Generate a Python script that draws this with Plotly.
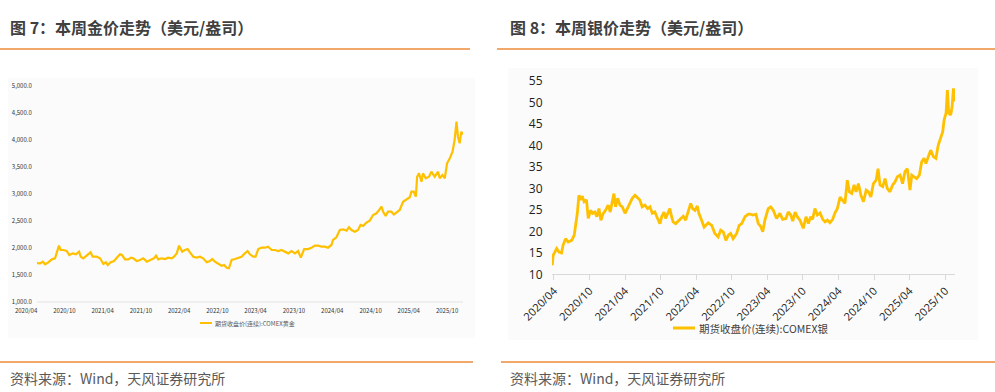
import plotly.graph_objects as go

# ---------------- data ----------------
gold_dates = [
    "2020-05-23", "2020-06-07", "2020-06-20", "2020-07-01", "2020-07-16", "2020-08-02", "2020-08-17",
    "2020-08-28", "2020-09-05", "2020-09-13", "2020-09-26", "2020-10-12", "2020-10-24", "2020-11-10",
    "2020-11-25", "2020-12-10", "2020-12-18", "2020-12-30", "2021-01-15", "2021-02-03", "2021-02-13",
    "2021-03-04", "2021-03-20", "2021-04-05", "2021-04-17", "2021-04-26", "2021-05-10", "2021-05-26",
    "2021-06-10", "2021-06-23", "2021-07-03", "2021-07-17", "2021-08-02", "2021-08-15", "2021-08-26",
    "2021-09-11", "2021-09-27", "2021-10-12", "2021-10-29", "2021-11-17", "2021-12-02", "2021-12-12",
    "2021-12-23", "2022-01-08", "2022-01-24", "2022-02-08", "2022-02-25", "2022-03-08", "2022-03-21",
    "2022-04-01", "2022-04-16", "2022-04-29", "2022-05-12", "2022-05-23", "2022-06-08", "2022-06-24",
    "2022-07-10", "2022-07-25", "2022-08-11", "2022-08-26", "2022-09-06", "2022-09-19", "2022-10-05",
    "2022-10-21", "2022-11-02", "2022-11-14", "2022-11-25", "2022-12-08", "2022-12-24", "2023-01-08",
    "2023-01-24", "2023-02-09", "2023-02-22", "2023-03-05", "2023-03-21", "2023-04-01", "2023-04-14",
    "2023-04-30", "2023-05-16", "2023-05-31", "2023-06-17", "2023-07-02", "2023-07-18", "2023-08-03",
    "2023-08-19", "2023-09-04", "2023-09-20", "2023-10-06", "2023-10-21", "2023-11-03", "2023-11-19",
    "2023-12-08", "2023-12-24", "2024-01-09", "2024-01-25", "2024-02-10", "2024-02-26", "2024-03-12",
    "2024-03-28", "2024-04-05", "2024-04-21", "2024-05-07", "2024-05-23", "2024-06-08", "2024-06-20",
    "2024-07-02", "2024-07-18", "2024-08-02", "2024-08-14", "2024-08-26", "2024-09-11", "2024-09-27",
    "2024-10-13", "2024-10-29", "2024-11-11", "2024-11-22", "2024-11-30", "2024-12-12", "2024-12-23",
    "2025-01-08", "2025-01-20", "2025-02-01", "2025-02-17", "2025-03-05", "2025-03-21", "2025-04-06",
    "2025-04-14", "2025-04-25", "2025-05-05", "2025-05-11", "2025-05-20", "2025-06-01", "2025-06-08",
    "2025-06-21", "2025-07-07", "2025-07-18", "2025-08-03", "2025-08-19", "2025-08-27", "2025-09-09",
    "2025-09-20", "2025-10-01", "2025-10-14", "2025-10-27", "2025-11-06", "2025-11-15", "2025-11-22",
    "2025-11-30", "2025-12-08", "2025-12-16",
]
gold_values = [
    1720, 1716, 1747, 1698, 1735, 1790, 1809, 1932, 2043, 1963, 1963, 1944, 1870, 1901, 1883, 1932,
    1839, 1809, 1858, 1920, 1839, 1839, 1809, 1704, 1735, 1685, 1735, 1759, 1828, 1883, 1870, 1790,
    1790, 1821, 1809, 1759, 1778, 1809, 1747, 1778, 1809, 1858, 1790, 1809, 1796, 1821, 1809, 1839,
    1901, 2043, 1932, 1963, 1981, 1920, 1839, 1821, 1839, 1809, 1735, 1759, 1796, 1747, 1716, 1672,
    1685, 1635, 1624, 1778, 1796, 1821, 1839, 1901, 1944, 1883, 1839, 1839, 1981, 2006, 2006, 2024,
    1963, 1963, 1944, 1963, 1932, 1901, 1944, 1901, 1944, 1821, 1981, 1981, 2006, 2043, 2043, 2024,
    2024, 2006, 2056, 2148, 2198, 2333, 2346, 2320, 2383, 2333, 2302, 2333, 2426, 2407, 2469, 2506,
    2611, 2643, 2704, 2765, 2672, 2593, 2672, 2672, 2620, 2660, 2704, 2857, 2902, 2939, 3043, 3043,
    2950, 3320, 3383, 3228, 3383, 3291, 3320, 3413, 3320, 3413, 3291, 3352, 3291, 3569, 3661, 3784,
    4000, 4339, 4061, 3939, 4154, 4100,
]

silver_dates = [
    "2020-03-23", "2020-03-28", "2020-04-06", "2020-04-15", "2020-04-27", "2020-05-10", "2020-05-18",
    "2020-05-31", "2020-06-13", "2020-07-01", "2020-07-14", "2020-07-21", "2020-07-30", "2020-08-07",
    "2020-08-16", "2020-08-24", "2020-09-03", "2020-09-15", "2020-09-24", "2020-10-06", "2020-10-16",
    "2020-10-28", "2020-11-07", "2020-11-18", "2020-11-28", "2020-12-10", "2020-12-22", "2021-01-04",
    "2021-01-15", "2021-01-27", "2021-02-03", "2021-02-11", "2021-02-22", "2021-03-06", "2021-03-18",
    "2021-04-01", "2021-04-14", "2021-04-26", "2021-05-08", "2021-05-22", "2021-06-05", "2021-06-16",
    "2021-06-28", "2021-07-12", "2021-07-26", "2021-08-07", "2021-08-19", "2021-09-01", "2021-09-15",
    "2021-09-27", "2021-10-06", "2021-10-18", "2021-10-26", "2021-11-06", "2021-11-17", "2021-11-26",
    "2021-12-04", "2021-12-17", "2021-12-30", "2022-01-13", "2022-01-25", "2022-02-06", "2022-02-19",
    "2022-03-04", "2022-03-14", "2022-03-26", "2022-04-07", "2022-04-15", "2022-04-29", "2022-05-12",
    "2022-06-02", "2022-06-20", "2022-07-06", "2022-07-23", "2022-08-05", "2022-08-18", "2022-09-01",
    "2022-09-13", "2022-09-25", "2022-10-08", "2022-10-26", "2022-11-08", "2022-11-21", "2022-12-08",
    "2022-12-25", "2023-01-02", "2023-01-19", "2023-02-02", "2023-02-14", "2023-02-26", "2023-03-09",
    "2023-03-20", "2023-04-06", "2023-04-19", "2023-05-02", "2023-05-19", "2023-06-05", "2023-06-19",
    "2023-07-06", "2023-07-18", "2023-07-31", "2023-08-10", "2023-08-22", "2023-09-02", "2023-09-16",
    "2023-10-03", "2023-10-17", "2023-10-29", "2023-11-10", "2023-11-20", "2023-12-02", "2023-12-14",
    "2023-12-28", "2024-01-11", "2024-01-23", "2024-02-04", "2024-02-17", "2024-03-02", "2024-03-14",
    "2024-03-26", "2024-04-09", "2024-04-23", "2024-05-04", "2024-05-16", "2024-05-27", "2024-06-08",
    "2024-06-20", "2024-06-30", "2024-07-12", "2024-07-25", "2024-08-07", "2024-08-21", "2024-09-02",
    "2024-09-14", "2024-09-27", "2024-10-11", "2024-10-21", "2024-10-31", "2024-11-14", "2024-11-26",
    "2024-12-07", "2024-12-21", "2025-01-04", "2025-01-16", "2025-01-28", "2025-02-11", "2025-02-24",
    "2025-03-08", "2025-03-20", "2025-04-03", "2025-04-12", "2025-04-24", "2025-05-07", "2025-05-21",
    "2025-06-02", "2025-06-14", "2025-06-24", "2025-07-06", "2025-07-18", "2025-08-01", "2025-08-14",
    "2025-08-26", "2025-09-08", "2025-09-18", "2025-09-25", "2025-10-05", "2025-10-12", "2025-10-19",
    "2025-10-29", "2025-11-05", "2025-11-12", "2025-11-17",
]
silver_values = [
    12.1, 14.4, 15.2, 16.0, 15.2, 15.0, 16.8, 18.3, 17.5, 17.9, 19.1, 21.0, 24.2, 28.4, 27.3, 28.2,
    26.9, 27.3, 23.0, 24.9, 24.2, 24.5, 23.4, 25.3, 22.6, 24.2, 24.9, 26.1, 24.5, 27.3, 28.8, 25.7,
    27.7, 26.1, 25.7, 24.2, 25.3, 26.5, 27.7, 28.4, 27.9, 27.3, 25.7, 26.1, 25.3, 25.7, 24.2, 24.5,
    23.0, 21.8, 23.4, 24.5, 23.0, 24.2, 25.3, 23.4, 22.2, 21.8, 22.4, 22.8, 23.5, 22.6, 24.5, 26.5,
    25.3, 24.9, 25.9, 24.2, 22.6, 21.0, 22.0, 21.4, 19.5, 18.7, 20.3, 19.9, 17.9, 19.1, 19.5, 18.3,
    19.5, 21.4, 21.8, 23.4, 24.0, 24.0, 23.8, 24.0, 21.8, 21.2, 19.9, 22.6, 25.3, 25.7, 24.9, 23.0,
    24.2, 22.8, 23.0, 24.5, 23.8, 22.4, 24.5, 23.4, 22.6, 20.7, 23.4, 21.8, 23.4, 22.8, 25.3, 23.8,
    24.3, 22.8, 22.2, 22.6, 22.0, 22.8, 24.3, 25.3, 28.0, 27.3, 26.5, 31.9, 29.2, 28.8, 30.8, 29.2,
    31.1, 28.4, 26.9, 29.6, 29.2, 28.0, 31.1, 31.9, 34.6, 30.8, 30.4, 32.3, 30.0, 29.2, 30.8, 31.5,
    32.7, 33.1, 31.1, 33.9, 34.6, 29.6, 33.1, 32.7, 32.3, 33.1, 36.2, 37.0, 35.8, 37.4, 38.9, 37.4,
    37.0, 40.1, 42.0, 43.2, 45.9, 47.5, 52.9, 47.5, 47.1, 49.0, 53.3, 50.2,
]

tick_dates = ["2020-04-01", "2020-10-01", "2021-04-01", "2021-10-01", "2022-04-01", "2022-10-01",
              "2023-04-01", "2023-10-01", "2024-04-01", "2024-10-01", "2025-04-01", "2025-10-01"]
tick_labels = ["2020/04", "2020/10", "2021/04", "2021/10", "2022/04", "2022/10",
               "2023/04", "2023/10", "2024/04", "2024/10", "2025/04", "2025/10"]
gold_ticks = [1000, 1500, 2000, 2500, 3000, 3500, 4000, 4500, 5000]
silver_ticks = [10, 15, 20, 25, 30, 35, 40, 45, 50, 55]

title_left = "图 7：本周金价走势（美元/盎司）"
title_right = "图 8：本周银价走势（美元/盎司）"
gold_name = "期货收盘价(连续):COMEX黄金"
silver_name = "期货收盘价(连续):COMEX银"
source_text = "资料来源：Wind，天风证券研究所"

# ---------------- figure ----------------
W, H = 995, 392
LINE = "#FFC000"
ORANGE = "#EE8A3A"
CJK = "Noto Sans CJK SC"


def px(x):
    return x / W


def py(y):
    return 1 - y / H


fig = go.Figure()
fig.add_trace(go.Scatter(x=gold_dates, y=gold_values, mode="lines", name=gold_name,
                         line=dict(color=LINE, width=2.2), xaxis="x", yaxis="y", showlegend=False))
fig.add_trace(go.Scatter(x=silver_dates, y=silver_values, mode="lines", name=silver_name,
                         line=dict(color=LINE, width=2.8), xaxis="x2", yaxis="y2", showlegend=False))

fig.update_layout(
    width=W, height=H, margin=dict(l=0, r=0, t=0, b=0, autoexpand=False),
    paper_bgcolor="white", plot_bgcolor="rgba(0,0,0,0)",
    font=dict(family=CJK, color="#404040"),
    xaxis=dict(domain=[px(20), px(463)], type="date", range=["2020-03-03", "2025-12-16"],
               tickvals=tick_dates, ticktext=tick_labels, tickangle=0, automargin=False,
               tickfont=dict(size=6, color="#333333", family=CJK),
               showgrid=False, zeroline=False, showline=False, ticks="outside", ticklen=3,
               tickcolor="rgba(0,0,0,0)", anchor="y"),
    yaxis=dict(domain=[py(302), py(86)], range=[1000, 5000], tickvals=gold_ticks,
               tickformat=",.1f", tickfont=dict(size=6, color="#333333", family=CJK),
               showgrid=False, zeroline=False, showline=False, ticks="outside", ticklen=4,
               tickcolor="rgba(0,0,0,0)", anchor="free", position=px(37), automargin=False),
    xaxis2=dict(domain=[px(552), px(955)], type="date", range=["2020-03-22", "2025-11-20"],
                tickvals=tick_dates, ticktext=tick_labels, tickangle=-45, automargin=False,
                tickfont=dict(size=11, color="#222222", family="Open Sans"),
                showgrid=False, zeroline=False, showline=True, linecolor="#d9d9d9", linewidth=1,
                ticks="outside", ticklen=5, tickcolor="#d9d9d9", anchor="y2"),
    yaxis2=dict(domain=[py(274.3), py(81)], range=[10, 55], tickvals=silver_ticks,
                tickfont=dict(size=12, color="#222222", family="Open Sans"),
                showgrid=False, zeroline=False, showline=False, ticks="outside", ticklen=6,
                tickcolor="rgba(0,0,0,0)", anchor="x2", automargin=False),
)

shapes = [
    # faint chart backgrounds
    dict(type="rect", xref="paper", yref="paper", x0=px(8), x1=px(475), y0=py(338), y1=py(78),
         fillcolor="#fbfbfb", line=dict(width=0), layer="below"),
    dict(type="rect", xref="paper", yref="paper", x0=px(508), x1=px(978), y0=py(340), y1=py(68),
         fillcolor="#fbfbfb", line=dict(width=0), layer="below"),
    # gold x axis line
    dict(type="line", xref="paper", yref="paper", x0=px(37), x1=px(463), y0=py(302), y1=py(302),
         line=dict(color="#e3e3e3", width=1)),
    # orange separators
    dict(type="line", xref="paper", yref="paper", x0=0, x1=px(470), y0=py(49), y1=py(49),
         line=dict(color=ORANGE, width=1.3)),
    dict(type="line", xref="paper", yref="paper", x0=px(497), x1=1, y0=py(49), y1=py(49),
         line=dict(color=ORANGE, width=1.3)),
    dict(type="line", xref="paper", yref="paper", x0=0, x1=px(473), y0=py(362), y1=py(362),
         line=dict(color=ORANGE, width=1.3)),
    dict(type="line", xref="paper", yref="paper", x0=px(501), x1=1, y0=py(362), y1=py(362),
         line=dict(color=ORANGE, width=1.3)),
    # legend keys
    dict(type="line", xref="paper", yref="paper", x0=px(200), x1=px(212), y0=py(323), y1=py(323),
         line=dict(color=LINE, width=2)),
    dict(type="line", xref="paper", yref="paper", x0=px(673), x1=px(695), y0=py(328), y1=py(328),
         line=dict(color=LINE, width=3)),
]
fig.update_layout(shapes=shapes)

annotations = [
    dict(text=f"<b>{title_left}</b>", x=px(8), y=py(27), xanchor="left", yanchor="middle",
         font=dict(size=16, color="#404040", family=CJK)),
    dict(text=f"<b>{title_right}</b>", x=px(508), y=py(27), xanchor="left", yanchor="middle",
         font=dict(size=16, color="#404040", family=CJK)),
    dict(text=gold_name, x=px(213), y=py(323), xanchor="left", yanchor="middle",
         font=dict(size=6, color="#595959", family=CJK)),
    dict(text=silver_name, x=px(697), y=py(328), xanchor="left", yanchor="middle",
         font=dict(size=10.5, color="#404040", family=CJK)),
    dict(text=source_text, x=px(8), y=py(378), xanchor="left", yanchor="middle",
         font=dict(size=14, color="#595959", family=CJK)),
    dict(text=source_text, x=px(508), y=py(378), xanchor="left", yanchor="middle",
         font=dict(size=14, color="#595959", family=CJK)),
]
for a in annotations:
    a.update(xref="paper", yref="paper", showarrow=False)
fig.update_layout(annotations=annotations)

fig.write_html(
    "out.html",
    config={"displayModeBar": False},
    post_script="document.body.style.margin='0';document.body.style.overflow='hidden';",
)
